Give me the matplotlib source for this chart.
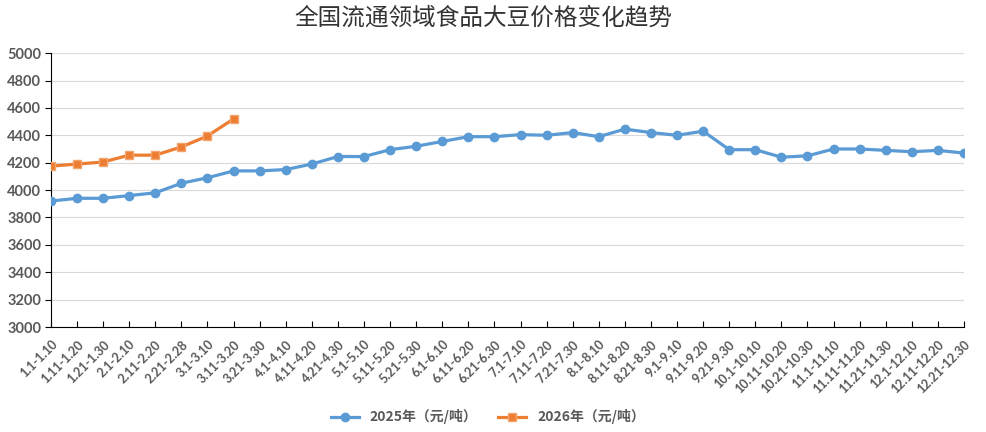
import matplotlib.pyplot as plt

# 10-day periods
periods = ['1.1-1.10', '1.11-1.20', '1.21-1.30', '2.1-2.10', '2.11-2.20', '2.21-2.28',
           '3.1-3.10', '3.11-3.20', '3.21-3.30', '4.1-4.10', '4.11-4.20', '4.21-4.30',
           '5.1-5.10', '5.11-5.20', '5.21-5.30', '6.1-6.10', '6.11-6.20', '6.21-6.30',
           '7.1-7.10', '7.11-7.20', '7.21-7.30', '8.1-8.10', '8.11-8.20', '8.21-8.30',
           '9.1-9.10', '9.11-9.20', '9.21-9.30', '10.1-10.10', '10.11-10.20', '10.21-10.30',
           '11.1-11.10', '11.11-11.20', '11.21-11.30', '12.1-12.10', '12.11-12.20', '12.21-12.30']

price_2025 = [3920, 3940, 3940, 3960, 3980, 4050, 4090, 4140, 4140, 4150, 4190, 4245,
              4245, 4295, 4320, 4355, 4390, 4390, 4405, 4400, 4420, 4390, 4445, 4420,
              4400, 4430, 4295, 4295, 4240, 4250, 4300, 4300, 4290, 4280, 4290, 4270]
price_2026 = [4175, 4190, 4205, 4255, 4255, 4315, 4395, 4520]

label_2025 = '2025年（元/吨）'
label_2026 = '2026年（元/吨）'
title = '全国流通领域食品大豆价格变化趋势'

plt.rcParams['font.family'] = ['Lato', 'Noto Sans CJK SC', 'DejaVu Sans']

fig = plt.figure(figsize=(9.86, 4.32), dpi=100)
ax = fig.add_axes([0.0517, 0.243, 0.926, 0.634])

x = list(range(len(periods)))
ax.plot(x, price_2025, color='#5B9BD5', lw=2.3, marker='o', ms=6, label=label_2025, zorder=3)
ax.plot(x[:len(price_2026)], price_2026, color='#ED7D31', lw=2.3, marker='s', ms=5.5,
        markerfacecolor='#ED7D31', markeredgecolor='#F4A46E', label=label_2026, zorder=3)

ax.set_xlim(0, len(periods) - 1)
ax.set_ylim(3000, 5000)
ax.set_yticks(range(3000, 5001, 200))
ax.set_xticks(x)
ax.set_xticklabels(periods, rotation=45, ha='right', rotation_mode='anchor',
                   fontsize=9, fontweight='bold', color='#595959')
for lab in ax.get_yticklabels():
    lab.set_fontsize(10.5)
    lab.set_fontweight('bold')
    lab.set_color('#595959')

ax.grid(axis='y', color='#D9D9D9', lw=0.8)
ax.set_axisbelow(True)
for s in ['top', 'right']:
    ax.spines[s].set_visible(False)
ax.spines['left'].set_color('black')
ax.spines['bottom'].set_color('black')
ax.tick_params(axis='y', length=4, width=0.8, direction='out', pad=3)
ax.tick_params(axis='x', length=4, width=0.8, direction='in', pad=8)

fig.text(0.49, 0.957, title, ha='center', va='center', fontsize=17,
         family=['Noto Sans CJK SC'], fontweight='medium', color='#333333')

leg = fig.legend(loc='center', bbox_to_anchor=(0.495, 0.035), ncol=2, frameon=False,
                 prop={'family': ['Noto Sans CJK SC'], 'size': 10, 'weight': 'bold'},
                 handlelength=2, columnspacing=1.5)
for t in leg.get_texts():
    t.set_color('#595959')

fig.savefig('out.png', dpi=100)
